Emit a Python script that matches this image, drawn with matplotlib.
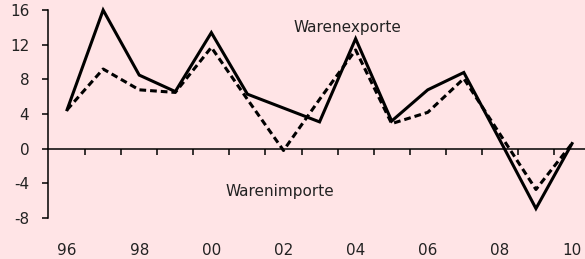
import numpy as np
import matplotlib.pyplot as plt

# Jahreswerte (96 = 1996 ... 10 = 2010), Veraenderung in %
jahre = np.arange(1996, 2011)
exporte = [4.5, 16.0, 8.5, 6.6, 13.4, 6.3, 4.7, 3.1, 12.7, 3.2, 6.8, 8.8, 1.0, -6.9, 0.6]
importe = [4.5, 9.2, 6.8, 6.5, 11.7, 5.7, -0.2, 5.7, 11.4, 2.9, 4.2, 8.1, 1.7, -4.7, 0.6]
x_beschriftung = ['96', '98', '00', '02', '04', '06', '08', '10']
y_ticks = [-8, -4, 0, 4, 8, 12, 16]

bg = '#FFE4E6'
plt.rcParams['font.family'] = ['DejaVu Sans']
plt.rcParams['axes.unicode_minus'] = False

fig = plt.figure(figsize=(5.85, 2.59), dpi=100, facecolor=bg)
ax = fig.add_axes([0.082, 0.158, 0.918, 0.803], facecolor=bg)

ax.plot(jahre, exporte, color='black', lw=2.2, clip_on=False,
        solid_joinstyle='miter')
ax.plot(jahre, importe, color='black', lw=2.2, ls=(0, (2.2, 1.3)),
        clip_on=False)

ax.set_xlim(1995.47, 2010.36)
ax.set_ylim(-8, 16)

# Achsen
for s in ['top', 'right']:
    ax.spines[s].set_visible(False)
ax.spines['bottom'].set_position(('data', 0))
ax.spines['bottom'].set_linewidth(1.1)
ax.spines['left'].set_linewidth(1.1)

ax.set_yticks(y_ticks)
ax.tick_params(axis='y', direction='out', length=4.5, width=1.1,
               pad=9, labelsize=11, labelcolor='#222222')
ax.set_xticks(np.arange(1996.5, 2010, 1.0))
ax.tick_params(axis='x', direction='out', length=4, width=1.1,
               labelbottom=False)

# Jahresbeschriftung unten
for j, lab in zip(jahre[::2], x_beschriftung):
    ax.text(j, -0.155, lab, transform=ax.get_xaxis_transform(),
            ha='center', va='center', fontsize=11, color='#222222')

ax.text(2003.76, 14.0, 'Warenexporte', ha='center', va='center',
        fontsize=11, color='#222222')
ax.text(2001.9, -4.9, 'Warenimporte', ha='center', va='center',
        fontsize=11, color='#222222')

fig.savefig('out.png', dpi=100, facecolor=bg)
